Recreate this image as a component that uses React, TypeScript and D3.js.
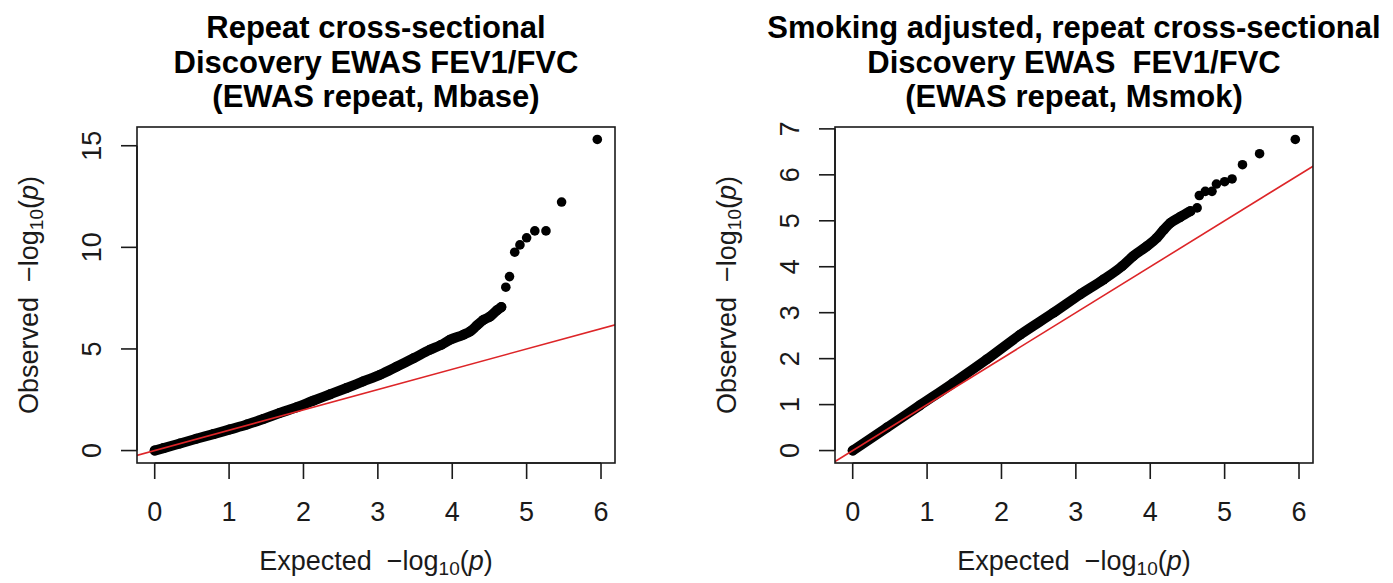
import React from "react";
import * as d3 from "d3";

// Q-Q plot of EWAS p-values: expected vs observed -log10(p)

// Base model (Mbase): dense body of the distribution
const mbaseBandExpected = [0.0, 0.12, 0.34, 0.56, 0.79, 1.01, 1.24, 1.46, 1.68, 1.91, 2.13, 2.36, 2.58, 2.8, 3.03, 3.25, 3.48, 3.7, 3.85, 3.97, 4.15, 4.24, 4.33, 4.42, 4.51, 4.6, 4.66];
const mbaseBandObserved = [0.0, 0.12, 0.35, 0.58, 0.81, 1.04, 1.28, 1.55, 1.85, 2.13, 2.45, 2.77, 3.08, 3.4, 3.73, 4.12, 4.54, 4.96, 5.2, 5.45, 5.7, 5.86, 6.15, 6.43, 6.6, 6.9, 7.06];
// Base model: top-ranked CpG sites
const mbaseTailExpected = [4.72, 4.77, 4.84, 4.91, 5.0, 5.11, 5.26, 5.47, 5.95];
const mbaseTailObserved = [8.04, 8.56, 9.76, 10.12, 10.47, 10.81, 10.81, 12.23, 15.31];

// Smoking-adjusted model (Msmok): dense body
const msmokBandExpected = [0.0, 0.46, 0.9, 1.35, 1.8, 2.25, 2.7, 3.06, 3.37, 3.62, 3.77, 3.95, 4.09, 4.18, 4.27, 4.4, 4.54];
const msmokBandObserved = [0.0, 0.5, 0.98, 1.47, 1.98, 2.52, 3.0, 3.4, 3.72, 4.01, 4.23, 4.44, 4.63, 4.8, 4.95, 5.08, 5.21];
// Smoking-adjusted model: top-ranked CpG sites
const msmokTailExpected = [4.63, 4.66, 4.74, 4.83, 4.89, 5.0, 5.1, 5.24, 5.47, 5.95];
const msmokTailObserved = [5.28, 5.55, 5.64, 5.64, 5.8, 5.85, 5.91, 6.22, 6.46, 6.77];

const mbaseTitle = ["Repeat cross-sectional", "Discovery EWAS FEV1/FVC", "(EWAS repeat, Mbase)"];
const msmokTitle = ["Smoking adjusted, repeat cross-sectional", "Discovery EWAS  FEV1/FVC", "(EWAS repeat, Msmok)"];

const xTicks = [0, 1, 2, 3, 4, 5, 6];
const mbaseYTicks = [0, 5, 10, 15];
const msmokYTicks = [0, 1, 2, 3, 4, 5, 6, 7];

const FONT = "'Liberation Sans', Arial, Helvetica, sans-serif";
const INK = "#1a1a1a";
const BOX_TOP = 127;
const BOX_BOTTOM = 463;
const BOX_WIDTH = 478;
const TICK = 16;
const LABEL_SIZE = 27;
const TITLE_SIZE = 31;

// R-style 4% padding of the data range
function padded(values: number[]): [number, number] {
  const [lo, hi] = d3.extent(values) as [number, number];
  const d = (hi - lo) * 0.04;
  return [lo - d, hi + d];
}

function AxisLabel({ word }: { word: string }) {
  return (
    <>
      <tspan>{word + "  \u2212log"}</tspan>
      <tspan fontSize={19} dy={5}>10</tspan>
      <tspan dy={-5}>(</tspan>
      <tspan fontStyle="italic">p</tspan>
      <tspan>)</tspan>
    </>
  );
}

type PanelProps = {
  id: string;
  left: number;
  bandX: number[];
  bandY: number[];
  tailX: number[];
  tailY: number[];
  yTicks: number[];
  title: string[];
};

function Panel({ id, left, bandX, bandY, tailX, tailY, yTicks, title }: PanelProps) {
  const right = left + BOX_WIDTH;
  const allX = [...bandX, ...tailX];
  const allY = [...bandY, ...tailY];
  const x = d3.scaleLinear().domain(padded(allX)).range([left, right]);
  const y = d3.scaleLinear().domain(padded(allY)).range([BOX_BOTTOM, BOX_TOP]);
  const cx = (left + right) / 2;
  const cy = (BOX_TOP + BOX_BOTTOM) / 2;

  const band = d3.range(bandX.length).map((i) => [bandX[i], bandY[i]] as [number, number]);
  const line = d3
    .line<[number, number]>()
    .x((d) => x(d[0]))
    .y((d) => y(d[1]))
    .curve(d3.curveMonotoneX);

  const [d0, d1] = x.domain();
  const lo = Math.min(d0, y.domain()[0]);
  const hi = Math.max(d1, y.domain()[1]);
  const identity: [number, number][] = [
    [lo, lo],
    [hi, hi],
  ];
  const straight = d3
    .line<[number, number]>()
    .x((d) => x(d[0]))
    .y((d) => y(d[1]));

  return (
    <g>
      <defs>
        <clipPath id={id}>
          <rect x={left} y={BOX_TOP} width={BOX_WIDTH} height={BOX_BOTTOM - BOX_TOP} />
        </clipPath>
      </defs>

      {/* title */}
      <text fontFamily={FONT} fontWeight="bold" fontSize={TITLE_SIZE} fill="#000" textAnchor="middle">
        {title.map((t, i) => (
          <tspan key={i} x={cx} y={38 + i * 34.5} style={{ whiteSpace: "pre" }}>
            {t}
          </tspan>
        ))}
      </text>

      <g clipPath={`url(#${id})`}>
        <path d={line(band) || ""} fill="none" stroke="#000" strokeWidth={10} strokeLinecap="round" strokeLinejoin="round" />
        {band.map((d, i) => (
          <circle key={"b" + i} cx={x(d[0])} cy={y(d[1])} r={5} fill="#000" />
        ))}
        {tailX.map((v, i) => (
          <circle key={"t" + i} cx={x(v)} cy={y(tailY[i])} r={4.8} fill="#000" />
        ))}
        <path d={straight(identity) || ""} stroke="#dd2528" strokeWidth={1.6} fill="none" />
      </g>

      {/* plot box */}
      <rect x={left} y={BOX_TOP} width={BOX_WIDTH} height={BOX_BOTTOM - BOX_TOP} fill="none" stroke={INK} strokeWidth={1.6} />

      {/* x axis */}
      <line x1={x(xTicks[0])} x2={x(xTicks[xTicks.length - 1])} y1={BOX_BOTTOM} y2={BOX_BOTTOM} stroke={INK} strokeWidth={1.6} />
      {xTicks.map((t) => (
        <g key={"x" + t}>
          <line x1={x(t)} x2={x(t)} y1={BOX_BOTTOM} y2={BOX_BOTTOM + TICK} stroke={INK} strokeWidth={1.6} />
          <text x={x(t)} y={521} fontFamily={FONT} fontSize={LABEL_SIZE} textAnchor="middle" fill={INK}>
            {t}
          </text>
        </g>
      ))}
      <text x={cx} y={570} fontFamily={FONT} fontSize={LABEL_SIZE} textAnchor="middle" fill={INK} style={{ whiteSpace: "pre" }}>
        <AxisLabel word="Expected" />
      </text>

      {/* y axis */}
      <line x1={left} x2={left} y1={y(yTicks[0])} y2={y(yTicks[yTicks.length - 1])} stroke={INK} strokeWidth={1.6} />
      {yTicks.map((t) => (
        <g key={"y" + t}>
          <line x1={left - TICK} x2={left} y1={y(t)} y2={y(t)} stroke={INK} strokeWidth={1.6} />
          <text
            transform={`translate(${left - 36},${y(t)}) rotate(-90)`}
            fontFamily={FONT}
            fontSize={LABEL_SIZE}
            textAnchor="middle"
            fill={INK}
          >
            {t}
          </text>
        </g>
      ))}
      <text
        transform={`translate(${left - 99},${cy}) rotate(-90)`}
        fontFamily={FONT}
        fontSize={LABEL_SIZE}
        textAnchor="middle"
        fill={INK}
        style={{ whiteSpace: "pre" }}
      >
        <AxisLabel word="Observed" />
      </text>
    </g>
  );
}

export default function App() {
  return (
    <svg
      width={1393}
      height={583}
      viewBox="0 0 1393 583"
      style={{ position: "fixed", left: 0, top: 0, background: "#fff" }}
    >
      <rect width={1393} height={583} fill="#fff" />
      <Panel
        id="clip-mbase"
        left={137}
        bandX={mbaseBandExpected}
        bandY={mbaseBandObserved}
        tailX={mbaseTailExpected}
        tailY={mbaseTailObserved}
        yTicks={mbaseYTicks}
        title={mbaseTitle}
      />
      <Panel
        id="clip-msmok"
        left={835}
        bandX={msmokBandExpected}
        bandY={msmokBandObserved}
        tailX={msmokTailExpected}
        tailY={msmokTailObserved}
        yTicks={msmokYTicks}
        title={msmokTitle}
      />
    </svg>
  );
}
